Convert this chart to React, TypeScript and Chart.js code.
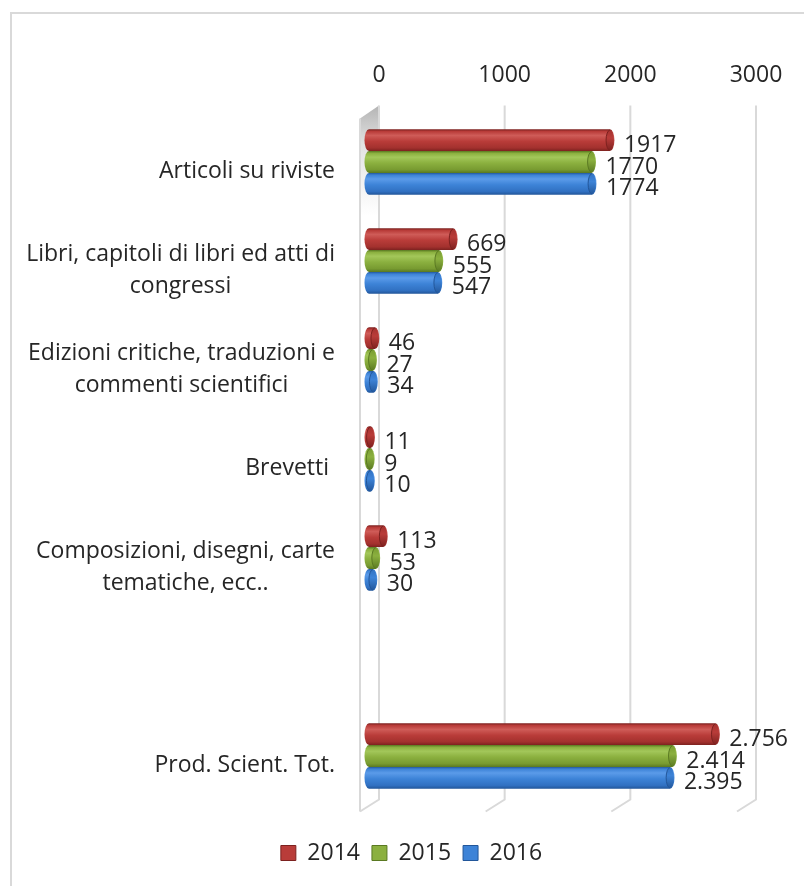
import { useEffect, useRef } from 'react';
import { Chart, registerables } from 'chart.js';

Chart.register(...registerables);

// Category labels (one entry per line of text)
const categories: string[][] = [
  ['Articoli su riviste'],
  ['Libri, capitoli di libri ed atti di', 'congressi'],
  ['Edizioni critiche, traduzioni e', 'commenti scientifici'],
  ['Brevetti '],
  ['Composizioni, disegni, carte', 'tematiche, ecc..'],
  [''],
  ['Prod. Scient. Tot.'],
];

const seriesNames = ['2014', '2015', '2016'];
const values2014 = [1917, 669, 46, 11, 113, null, 2756];
const values2015 = [1770, 555, 27, 9, 53, null, 2414];
const values2016 = [1774, 547, 34, 10, 30, null, 2395];
const axisTicks = [0, 1000, 2000, 3000];
// the totals row prints its values with a thousands separator
const totalCategory = 6;

const FONT = "'Open Sans', sans-serif";
const TEXT = '#262626';
const GRID = '#d9d9d9';

type Palette = { base: string; light: string; shade: string; dark: string };
const palettes: Palette[] = [
  { base: '#b93c39', light: '#cf5c58', shade: '#a3312e', dark: '#7c211f' },
  { base: '#8bb03f', light: '#a3c75a', shade: '#789b31', dark: '#5a7922' },
  { base: '#3d83d7', light: '#5b9be9', shade: '#3171c2', dark: '#22569a' },
];

// oblique 3D offsets of the back and front planes relative to the bars' plane
const BACK = { dx: 10, dy: -7 };
const FRONT = { dx: -9, dy: 6 };

const formatValue = (v: number, i: number) =>
  i === totalCategory ? v.toString().replace(/\B(?=(\d{3})+(?!\d))/g, '.') : String(v);

function drawCylinder(
  ctx: CanvasRenderingContext2D,
  x0: number,
  x1: number,
  cy: number,
  h: number,
  pal: Palette,
) {
  const r = Math.min(4.5, h / 4);
  const top = cy - h / 2;
  const bottom = cy + h / 2;
  const g = ctx.createLinearGradient(0, top, 0, bottom);
  g.addColorStop(0, pal.dark);
  g.addColorStop(0.1, pal.base);
  g.addColorStop(0.28, pal.light);
  g.addColorStop(0.55, pal.base);
  g.addColorStop(0.85, pal.shade);
  g.addColorStop(1, pal.dark);
  ctx.save();
  ctx.beginPath();
  ctx.moveTo(x0, top);
  ctx.lineTo(x1, top);
  ctx.ellipse(x1, cy, r, h / 2, 0, -Math.PI / 2, Math.PI / 2);
  ctx.lineTo(x0, bottom);
  ctx.ellipse(x0, cy, r, h / 2, 0, Math.PI / 2, Math.PI * 1.5);
  ctx.closePath();
  ctx.fillStyle = g;
  ctx.fill();

  // end face of the cylinder, with a thin shadow where it meets the body
  const fg = ctx.createLinearGradient(0, top, 0, bottom);
  fg.addColorStop(0, pal.shade);
  fg.addColorStop(0.4, pal.base);
  fg.addColorStop(1, pal.dark);
  ctx.beginPath();
  ctx.ellipse(x1, cy, r * 0.85, h / 2 - 0.8, 0, 0, Math.PI * 2);
  ctx.fillStyle = fg;
  ctx.fill();
  ctx.beginPath();
  ctx.ellipse(x1, cy, r * 0.85, h / 2 - 0.8, 0, Math.PI / 2, Math.PI * 1.5);
  ctx.strokeStyle = pal.dark;
  ctx.lineWidth = 1;
  ctx.stroke();
  ctx.restore();
}

const plot3d = {
  id: 'plot3d',
  beforeDatasetsDraw(chart: any) {
    const { ctx, chartArea } = chart;
    const xs = chart.scales.x;
    const topBack = chartArea.top + BACK.dy;
    const botBack = chartArea.bottom + BACK.dy + 1;
    const topFront = chartArea.top + FRONT.dy;
    const botFront = chartArea.bottom + FRONT.dy;
    const x0 = xs.getPixelForValue(0);

    ctx.save();
    // side wall at zero
    const wg = ctx.createLinearGradient(0, topBack, 0, topBack + 110);
    wg.addColorStop(0, '#b4b4b4');
    wg.addColorStop(0.35, '#e2e2e2');
    wg.addColorStop(1, '#ffffff');
    ctx.beginPath();
    ctx.moveTo(x0 + BACK.dx, topBack);
    ctx.lineTo(x0 + BACK.dx, botBack);
    ctx.lineTo(x0 + FRONT.dx, botFront);
    ctx.lineTo(x0 + FRONT.dx, topFront);
    ctx.closePath();
    ctx.fillStyle = wg;
    ctx.fill();

    ctx.strokeStyle = GRID;
    ctx.lineWidth = 2;
    ctx.beginPath();
    ctx.moveTo(x0 + FRONT.dx, topFront);
    ctx.lineTo(x0 + FRONT.dx, botFront);
    ctx.stroke();

    for (const v of axisTicks) {
      const px = xs.getPixelForValue(v);
      ctx.beginPath();
      ctx.moveTo(px + BACK.dx, topBack);
      ctx.lineTo(px + BACK.dx, botBack);
      ctx.lineTo(px + FRONT.dx, botFront);
      ctx.stroke();
    }
    ctx.restore();
  },
  beforeDatasetDraw(chart: any, args: any) {
    const { ctx } = chart;
    const meta = args.meta;
    const pal = palettes[args.index];
    const data = chart.data.datasets[args.index].data;
    meta.data.forEach((el: any, i: number) => {
      if (data[i] == null) return;
      drawCylinder(ctx, el.base, el.x, el.y, el.height, pal);
    });
    return false;
  },
  afterDatasetsDraw(chart: any) {
    const { ctx } = chart;
    ctx.save();
    ctx.font = `23px ${FONT}`;
    ctx.fillStyle = TEXT;
    ctx.textAlign = 'left';
    ctx.textBaseline = 'middle';
    chart.data.datasets.forEach((ds: any, d: number) => {
      const meta = chart.getDatasetMeta(d);
      meta.data.forEach((el: any, i: number) => {
        const v = ds.data[i];
        if (v == null) return;
        ctx.fillText(formatValue(v, i), el.x + 14, el.y + 5);
      });
    });
    ctx.restore();
  },
  afterDraw(chart: any) {
    const { ctx, chartArea } = chart;
    const ys = chart.scales.y;
    ctx.save();
    ctx.font = `23px ${FONT}`;
    ctx.fillStyle = TEXT;
    ctx.textAlign = 'center';
    ctx.textBaseline = 'middle';
    const right = chartArea.left - 34;
    categories.forEach((lines, i) => {
      const w = Math.max(...lines.map((l) => ctx.measureText(l).width));
      const cx = right - w / 2;
      const cy = ys.getPixelForValue(i) + 9;
      lines.forEach((l, k) => ctx.fillText(l, cx, cy + (k - (lines.length - 1) / 2) * 32));
    });
    ctx.restore();
  },
};

export default function App() {
  const ref = useRef<HTMLCanvasElement>(null);

  useEffect(() => {
    const canvas = ref.current;
    if (!canvas) return;
    const series = [values2014, values2015, values2016];
    const chart = new Chart(canvas, {
      type: 'bar',
      data: {
        labels: categories,
        datasets: series.map((data, i) => ({
          label: seriesNames[i],
          data,
          backgroundColor: palettes[i].base,
          borderColor: palettes[i].dark,
          borderWidth: 1,
        })),
      },
      options: {
        indexAxis: 'y',
        responsive: false,
        animation: false,
        devicePixelRatio: 1,
        layout: { padding: { left: 77, right: 58, top: 0, bottom: 11.5 } },
        datasets: { bar: { categoryPercentage: 0.66, barPercentage: 1 } },
        scales: {
          x: {
            type: 'linear',
            position: 'top',
            min: 0,
            max: 3000,
            grid: { display: false, drawTicks: false },
            border: { display: false },
            ticks: {
              padding: 23,
              labelOffset: 10,
              color: TEXT,
              font: { family: FONT, size: 23 },
              callback: (v: any) => String(v),
            },
            afterBuildTicks: (s: any) => {
              s.ticks = axisTicks.map((value) => ({ value }));
            },
            afterFit: (s: any) => {
              s.height = 112.5;
            },
          },
          y: {
            type: 'category',
            grid: { display: false, drawTicks: false },
            border: { display: false },
            ticks: { display: false },
            afterFit: (s: any) => {
              s.width = 369 - 77;
            },
          },
        },
        plugins: {
          legend: {
            position: 'bottom',
            title: { display: true, text: '', font: { size: 10 }, padding: { top: 12, bottom: 0 } },
            labels: {
              boxWidth: 15,
              boxHeight: 15,
              padding: 12,
              color: TEXT,
              font: { family: FONT, size: 23 },
            },
          },
          tooltip: { enabled: false },
        },
      } as any,
      plugins: [plot3d],
    });
    return () => chart.destroy();
  }, []);

  return (
    <div style={{ position: 'fixed', left: 0, top: 0, width: 804, height: 886, background: '#fff' }}>
      <div
        style={{
          position: 'absolute',
          left: 10,
          top: 12,
          width: 794,
          height: 874,
          borderTop: '2px solid #d9d9d9',
          borderLeft: '2px solid #d9d9d9',
          boxSizing: 'border-box',
        }}
      />
      <canvas ref={ref} width={804} height={886} style={{ position: 'absolute', left: 0, top: 0 }} />
    </div>
  );
}
